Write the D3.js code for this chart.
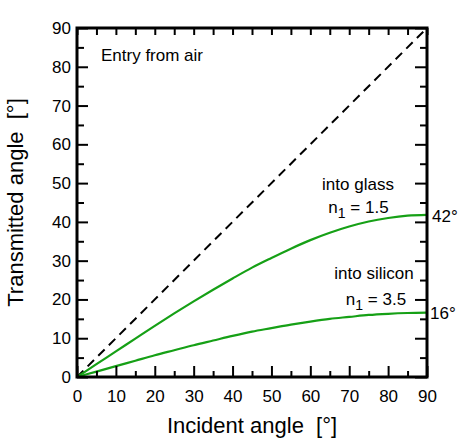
<!DOCTYPE html>
<html>
<head>
<meta charset="utf-8">
<script src="https://cdn.jsdelivr.net/npm/d3@7"></script>
<style>
  body { margin: 0; background: #fff; }
  svg { font-family: "Liberation Sans", Arial, sans-serif; }
</style>
</head>
<body>
<div id="chart"></div>
<script>
// values
const incident = [0, 5, 10, 15, 20, 25, 30, 35, 40, 45, 50, 55, 60, 65, 70, 75, 80, 85, 90];
const intoGlass = [0, 3.3, 6.6, 9.9, 13.2, 16.4, 19.5, 22.5, 25.4, 28.2, 30.7, 33.1, 35.3, 37.2, 38.8, 40.1, 41.0, 41.6, 41.8];
const intoSilicon = [0, 1.4, 2.8, 4.2, 5.6, 6.9, 8.2, 9.4, 10.6, 11.7, 12.6, 13.5, 14.3, 15.0, 15.5, 16.0, 16.3, 16.5, 16.6];
const airLine = [[0, 0], [90, 90]];
const majorTicks = [0, 10, 20, 30, 40, 50, 60, 70, 80, 90];
const minorTicks = [5, 15, 25, 35, 45, 55, 65, 75, 85];

const margin = { top: 28, right: 44, bottom: 71, left: 77 },
    width = 471 - margin.left - margin.right,
    height = 448 - margin.top - margin.bottom;

const svg = d3.select("#chart")
    .append("svg")
    .attr("width", 471)
    .attr("height", 448);

const g = svg.append("g")
    .attr("transform", `translate(${margin.left},${margin.top})`);

const x = d3.scaleLinear().domain([0, 90]).range([0, width]);
const y = d3.scaleLinear().domain([0, 90]).range([height, 0]);

const green = "#16a016";
const fs = 17;

// curves
const line = d3.line()
    .x(d => x(d[0]))
    .y(d => y(d[1]))
    .curve(d3.curveMonotoneX);

g.append("path")
    .datum(airLine)
    .attr("d", line)
    .attr("fill", "none")
    .attr("stroke", "#000")
    .attr("stroke-width", 2)
    .attr("stroke-dasharray", "9,6");

[intoGlass, intoSilicon].forEach(series => {
    g.append("path")
        .datum(incident.map((a, i) => [a, series[i]]))
        .attr("d", line)
        .attr("fill", "none")
        .attr("stroke", green)
        .attr("stroke-width", 2.2);
});

// axes, ticks point inward
function styleAxis(sel) {
    sel.select(".domain").remove();
    sel.selectAll("line").attr("stroke-width", 2);
    sel.selectAll("text").attr("font-size", fs).attr("fill", "#000")
        .attr("font-family", "Liberation Sans, Arial, sans-serif");
}

g.append("g").attr("transform", `translate(0,${height})`)
    .call(d3.axisBottom(x).tickValues(majorTicks).tickSize(-11).tickPadding(13).tickFormat(d3.format("d")))
    .call(styleAxis);
g.append("g").attr("transform", `translate(0,${height})`)
    .call(d3.axisBottom(x).tickValues(minorTicks).tickSize(-6).tickFormat(""))
    .call(styleAxis);

g.append("g")
    .call(d3.axisLeft(y).tickValues(majorTicks).tickSize(-11).tickPadding(6).tickFormat(d3.format("d")))
    .call(styleAxis);
g.append("g")
    .call(d3.axisLeft(y).tickValues(minorTicks).tickSize(-7).tickFormat(""))
    .call(styleAxis);

g.append("g")
    .call(d3.axisTop(x).tickValues(majorTicks.concat(minorTicks)).tickSize(-7).tickFormat(""))
    .call(styleAxis);

g.append("g").attr("transform", `translate(${width},0)`)
    .call(d3.axisRight(y).tickValues(majorTicks).tickSize(-12).tickFormat(""))
    .call(styleAxis);
g.append("g").attr("transform", `translate(${width},0)`)
    .call(d3.axisRight(y).tickValues(minorTicks).tickSize(-7).tickFormat(""))
    .call(styleAxis);

// frame
g.append("rect")
    .attr("width", width)
    .attr("height", height)
    .attr("fill", "none")
    .attr("stroke", "#000")
    .attr("stroke-width", 3);

// axis titles
svg.append("text")
    .attr("x", margin.left + width / 2)
    .attr("y", 433)
    .attr("text-anchor", "middle")
    .attr("font-size", 22)
    .text("Incident angle\u00a0 [°]");

svg.append("text")
    .attr("transform", `translate(23,${margin.top + height / 2}) rotate(-90)`)
    .attr("text-anchor", "middle")
    .attr("font-size", 22)
    .text("Transmitted angle\u00a0 [°]");

// annotations
svg.append("text")
    .attr("x", 101).attr("y", 61)
    .attr("font-size", fs)
    .text("Entry from air");

svg.append("text")
    .attr("x", 358).attr("y", 190)
    .attr("text-anchor", "middle")
    .attr("font-size", fs)
    .text("into glass");

function nLabel(cx, by, value) {
    const t = svg.append("text")
        .attr("x", cx).attr("y", by)
        .attr("text-anchor", "middle")
        .attr("font-size", fs);
    t.append("tspan").text("n");
    t.append("tspan").attr("dy", 5).attr("font-size", 14).text("1");
    t.append("tspan").attr("dy", -5).text(" = " + value);
}
nLabel(358.5, 213, "1.5");

svg.append("text")
    .attr("x", 374).attr("y", 279)
    .attr("text-anchor", "middle")
    .attr("font-size", fs)
    .text("into silicon");
nLabel(376, 305, "3.5");

svg.append("text")
    .attr("x", margin.left + width + 5)
    .attr("y", margin.top + y(intoGlass[intoGlass.length - 1]) + 7)
    .attr("font-size", fs)
    .text("42°");

svg.append("text")
    .attr("x", margin.left + width + 3)
    .attr("y", margin.top + y(intoSilicon[intoSilicon.length - 1]) + 6)
    .attr("font-size", fs)
    .text("16°");
</script>
</body>
</html>
